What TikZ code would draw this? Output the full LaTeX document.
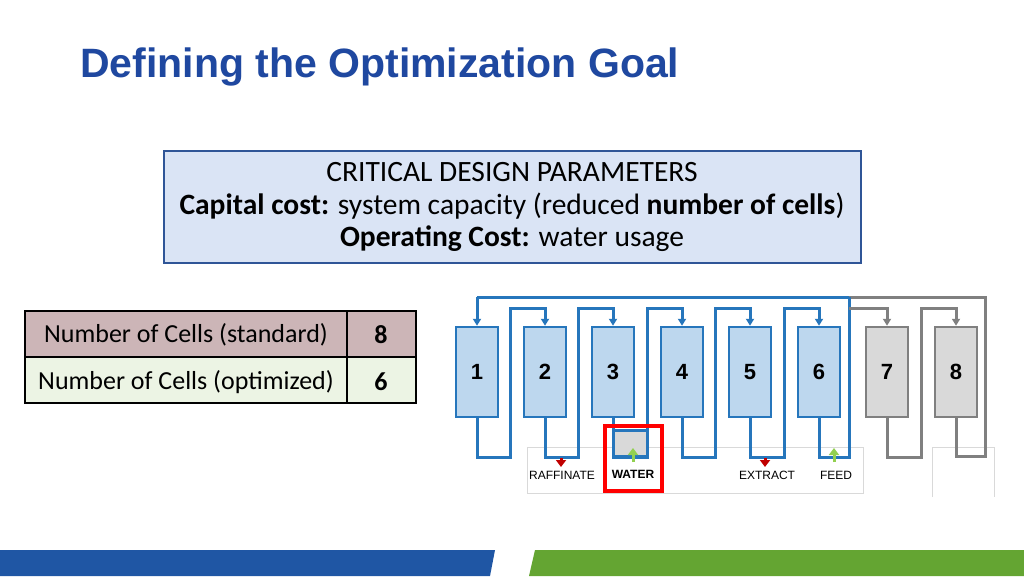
\documentclass[tikz,border=0pt]{standalone}
\usepackage{fontspec}
\setmainfont{Carlito}
\newfontfamily\titlefont{Liberation Sans}
\newfontfamily\arialf{Liberation Sans}
\usetikzlibrary{arrows.meta}
\definecolor{ttl}{RGB}{31,72,160}
\definecolor{bxfill}{RGB}{218,228,245}
\definecolor{bxline}{RGB}{47,85,151}
\definecolor{cblue}{RGB}{189,215,238}
\definecolor{lblue}{RGB}{38,118,188}
\definecolor{cgray}{RGB}{217,217,217}
\definecolor{lgray}{RGB}{128,128,128}
\definecolor{rowa}{RGB}{204,181,183}
\definecolor{rowb}{RGB}{236,244,228}
\definecolor{barb}{RGB}{31,86,164}
\definecolor{barg}{RGB}{100,165,50}
\definecolor{arred}{RGB}{192,0,0}
\definecolor{argrn}{RGB}{146,208,80}
\begin{document}
\begin{tikzpicture}[x=1pt,y=-1pt,
  cellb/.style={draw=lblue,line width=2.5pt,fill=cblue,minimum width=42pt,minimum height=90pt,inner sep=0,font=\arialf\bfseries\fontsize{22}{22}\selectfont},
  cellg/.style={cellb,draw=lgray,fill=cgray},
  pb/.style={draw=lblue,line width=3pt},
  pg/.style={draw=lgray,line width=3pt},
  tip/.style={-{Triangle[length=7pt,width=8pt]}},
  flow/.style={line width=3pt,-{Triangle[length=7pt,width=10pt]}},
  lbl/.style={font=\arialf\fontsize{12}{12}\selectfont,inner sep=0}]
\useasboundingbox (0,0) rectangle (1024,576);
\fill[white] (0,0) rectangle (1024,576);
\node[anchor=west,text=ttl,font=\titlefont\bfseries\fontsize{41}{41}\selectfont,inner sep=0] (title) at (80,67) {Defining the Optimization Goal};
% param box
\node[draw=bxline,line width=2pt,fill=bxfill,minimum width=697pt,minimum height=112pt,inner sep=0] (params) at (512.5,207) {};
\node[font=\fontsize{29.5}{30}\selectfont] (p1) at (512,172) {CRITICAL DESIGN PARAMETERS};
\node[font=\fontsize{29.5}{30}\selectfont] (p2) at (512,206) {\textbf{Capital cost:} system capacity (reduced \textbf{number of cells})};
\node[font=\fontsize{29.5}{30}\selectfont] (p3) at (512,239) {\textbf{Operating Cost:} water usage};
% table
\draw[fill=rowa,line width=1.2pt] (25,311) rectangle (416,357);
\draw[fill=rowb,line width=1.2pt] (25,357) rectangle (416,403);
\draw[line width=1.2pt] (347,311) -- (347,403);
\draw[line width=1.6pt] (25,311) rectangle (416,403);
\node[font=\fontsize{26}{26}\selectfont] (t1) at (186,335) {Number of Cells (standard)};
\node[font=\fontsize{26}{26}\selectfont\bfseries] (t2) at (381,335) {8};
\node[font=\fontsize{26}{26}\selectfont] (t3) at (186,382) {Number of Cells (optimized)};
\node[font=\fontsize{26}{26}\selectfont\bfseries] (t4) at (381,382) {6};
% lower boxes
\draw[draw=cgray,line width=0.8pt] (527,447) rectangle (863,493);
\draw[draw=cgray,line width=0.8pt] (932,497) -- (932,447) -- (994,447) -- (994,497);
% water box
\fill[cgray] (613,430) rectangle (647,456);
% cells
\foreach \i/\x in {1/477,2/545,3/613,4/682,5/750,6/819}{
  \node[cellb] (c\i) at (\x,372) {\i};
}
\node[cellg] (c7) at (887,372) {7};
\node[cellg] (c8) at (956,372) {8};
% top line
\draw[pb] (c1.north |- 0,297) -- (849,297);
\draw[pg] (849,297) -- (985,297) -- (985,456) -- (956,456) -- (c8.south);
\draw[pb,tip] (c1.north |- 0,297) -- (c1.north);
% loops
\foreach \a/\b in {1/2,2/3,3/4,4/5,5/6}{
  \draw[pb,tip] (c\a.south) -- ++(0,39) -| ([xshift=-35pt]c\b.north |- 0,456) |- ([xshift=-35pt]c\b.north |- 0,308) -| (c\b.north);
}
\draw[pb] (c6.south) -- ++(0,39) -| (849,297);
\draw[pg,tip] (849,308) -| (c7.north);
\draw[pg,tip] (c7.south) -- ++(0,39) -| (921,308) -| (c8.north);
\draw[draw=lblue,line width=3pt] (613,430) rectangle (647,456);
% red highlight
\draw[red,line width=4pt] (605,426) rectangle (662,491);
% flows
\draw[flow,arred] (561,458) -- (561,467);
\draw[flow,argrn] (633,462) -- (633,448);
\draw[flow,arred] (765,458) -- (765,467);
\draw[flow,argrn] (834,462) -- (834,448);
\node[lbl] (raf) at (562,475) {RAFFINATE};
\node[lbl,font=\arialf\bfseries\fontsize{12}{12}\selectfont] (wat) at (633,474) {WATER};
\node[lbl] (ext) at (767,475) {EXTRACT};
\node[lbl] (feed) at (836,475) {FEED};
% bottom bars
\fill[barb] (0,550) -- (495,550) -- (490,576) -- (0,576) -- cycle;
\fill[barg] (535,550) -- (1024,550) -- (1024,576) -- (529,576) -- cycle;
\end{tikzpicture}
\end{document}
